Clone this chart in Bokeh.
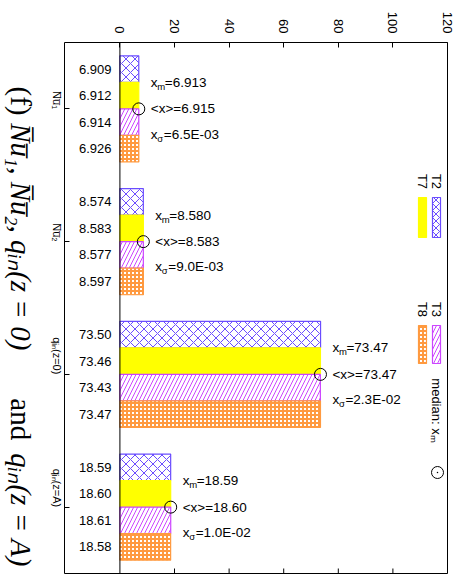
import math
from bokeh.plotting import figure
from bokeh.layouts import row
from bokeh.models import Range1d, FixedTicker, Span
from bokeh.core.properties import value
from bokeh.embed import file_html
from bokeh.resources import INLINE

# ---------------- data ----------------
groups = ["N\u0305u\u0305\u2081", "N\u0305u\u0305\u2082", "q\u1d62\u2099(z=0)", "q\u1d62\u2099(z=A)"]
series = ["T2", "T7", "T3", "T8"]
t2 = [6.909, 8.574, 73.50, 18.59]
t7 = [6.912, 8.583, 73.46, 18.60]
t3 = [6.914, 8.577, 73.43, 18.61]
t8 = [6.926, 8.597, 73.47, 18.58]
decimals = [3, 3, 2, 2]
medians = [6.913, 8.580, 73.47, 18.59]
means = [6.915, 8.583, 73.47, 18.60]
sigmas = ["6.5E-03", "9.0E-03", "2.3E-02", "1.0E-02"]
x_ticks = [0, 20, 40, 60, 80, 100, 120]
title_parts = ["(f)", "N\u0305u\u0305\u2081, N\u0305u\u0305\u2082, q\u1d62\u2099(z = 0)", "and", "q\u1d62\u2099(z = A)"]

# ---------------- style ----------------
SANS = "Liberation Sans"
SERIF = "Liberation Serif"
C_T2 = "#6a4cff"
C_T7 = "#ffff00"
C_T3 = "#cc44ff"
C_T8 = "#ff9a40"
X0, X1 = -20.3, 120
Y0, Y1 = -0.5, 3.5
TW = 40                               # width of title strip (px)
FL, FW, FT, FH = 64, 383, 42, 531     # frame position on page (px)


def dx(px):
    return X0 + (px - FL) * (X1 - X0) / FW


def dy(py):
    return Y0 + (py - FT) * (Y1 - Y0) / FH


# ---------------- title strip ----------------
tf = figure(width=TW, height=579, x_range=Range1d(0, TW), y_range=Range1d(579, 0),
            output_backend="svg", toolbar_location=None, x_axis_type=None, y_axis_type=None,
            min_border=0)
tf.outline_line_color = None
tf.grid.visible = False
t_styles = ["normal", "italic", "normal", "italic"]
t_starts = [48, 88, 388, 448]
for txt, st, y0 in zip(title_parts, t_styles, t_starts):
    tf.text(x=20, y=y0, text=[txt], angle=-math.pi / 2, text_align="left", text_baseline="middle",
            text_font=value(SERIF), text_font_style=st, text_font_size="29px", text_color="black")

# ---------------- main plot ----------------
p = figure(width=461 - TW, height=579, x_range=Range1d(X0, X1), y_range=Range1d(Y1, Y0),
           output_backend="svg", toolbar_location=None, x_axis_location="above",
           min_border_left=FL - TW, min_border_right=461 - FL - FW, min_border_top=FT,
           min_border_bottom=579 - FT - FH)
p.grid.visible = False
p.outline_line_color = "black"
p.outline_line_width = 1

xa = p.xaxis[0]
xa.ticker = FixedTicker(ticks=x_ticks)
xa.major_label_orientation = -math.pi / 2
xa.major_tick_in = 5
xa.major_tick_out = 0
xa.minor_tick_in = 0
xa.minor_tick_out = 0
xa.axis_line_color = None
xa.major_label_standoff = 9
xa.major_label_text_font = SANS
xa.major_label_text_font_size = "13px"
xa.major_label_text_color = "black"

ya = p.yaxis[0]
ya.ticker = FixedTicker(ticks=[0, 1, 2, 3])
ya.major_label_overrides = {i: g for i, g in enumerate(groups)}
ya.major_label_orientation = -math.pi / 2
ya.major_tick_in = 5
ya.major_tick_out = 0
ya.minor_tick_in = 0
ya.minor_tick_out = 0
ya.axis_line_color = None
ya.major_label_standoff = 8
ya.major_label_text_font = SANS
ya.major_label_text_font_size = "11px"
ya.major_label_text_color = "black"

# bottom mirror ticks
tick_len = 5 * (Y1 - Y0) / FH
p.segment(x0=x_ticks[1:], x1=x_ticks[1:], y0=Y1, y1=Y1 - tick_len, line_color="black", line_width=1)

p.add_layout(Span(location=0, dimension="height", line_color="black", line_width=1))

offsets = [-0.3, -0.1, 0.1, 0.3]
styles = [
    dict(fill_color="white", hatch_pattern="x", hatch_color=C_T2, hatch_scale=9, hatch_weight=1, line_color=C_T2),
    dict(fill_color=C_T7, line_color=C_T7),
    dict(fill_color="white", hatch_pattern="/", hatch_color=C_T3, hatch_scale=8, hatch_weight=1, line_color=C_T3),
    dict(fill_color="white", hatch_pattern="+", hatch_color=C_T8, hatch_scale=4, hatch_weight=2, line_color=C_T8),
]
for vals, off, st in zip([t2, t7, t3, t8], offsets, styles):
    ys = [i + off for i in range(len(vals))]
    p.hbar(y=ys, left=0, right=vals, height=0.2, line_width=1.2, **st)
    labels = [f"{v:.{d}f}" for v, d in zip(vals, decimals)]
    p.text(x=dx(111), y=ys, text=labels, text_align="right", text_baseline="middle",
           text_font=value(SANS), text_font_size="13px", text_color="black")

gy = list(range(len(groups)))
p.scatter(x=means, y=gy, marker="circle", size=12, fill_color=None, line_color="black", line_width=1)

FS = "13.5px"
SUB = "9.5px"
ym = [g - 0.2 for g in gy]
p.text(x=means, y=ym, text=["x"] * 4, x_offset=12, text_baseline="middle",
       text_font=value(SANS), text_font_size=FS)
p.text(x=means, y=ym, text=["m"] * 4, x_offset=18.5, y_offset=4, text_baseline="middle",
       text_font=value(SANS), text_font_size=SUB)
p.text(x=means, y=ym, text=[f"={v:.{d}f}" for v, d in zip(medians, decimals)], x_offset=26,
       text_baseline="middle", text_font=value(SANS), text_font_size=FS)
p.text(x=means, y=gy, text=[f"<x>={v:.{d}f}" for v, d in zip(means, decimals)], x_offset=12,
       text_baseline="middle", text_font=value(SANS), text_font_size=FS)
ysg = [g + 0.19 for g in gy]
p.text(x=means, y=ysg, text=["x"] * 4, x_offset=12, text_baseline="middle",
       text_font=value(SANS), text_font_size=FS)
p.text(x=means, y=ysg, text=["\u03c3"] * 4, x_offset=18.5, y_offset=4, text_baseline="middle",
       text_font=value(SANS), text_font_size=SUB)
p.text(x=means, y=ysg, text=[f"={s}" for s in sigmas], x_offset=25,
       text_baseline="middle", text_font=value(SANS), text_font_size=FS)

# ---------------- legend (rotated) ----------------
keys = [(432, 440, 197, 237), (418, 426, 197, 237), (432, 440, 325, 363), (418, 426, 325, 363)]
for (l, r, t, b), st in zip(keys, styles):
    st2 = dict(st)
    if st2.get("hatch_pattern") == "x":
        st2["hatch_scale"] = 7
    p.quad(left=dx(l), right=dx(r), top=dy(t), bottom=dy(b), line_width=1.2, **st2)
leg_pos = [(436, 181), (422, 181), (436, 309), (422, 309)]
for (lx, ly), name in zip(leg_pos, series):
    p.text(x=dx(lx), y=dy(ly), text=[name], angle=-math.pi / 2, text_align="center",
           text_baseline="middle", text_font=value(SANS), text_font_size="13px")
p.text(x=dx(436), y=dy(410), text=["median: x\u2098"], angle=-math.pi / 2, text_align="center",
       text_baseline="middle", text_font=value(SANS), text_font_size="13px")
p.scatter(x=dx(437), y=dy(472), marker="circle", size=12, fill_color=None, line_color="black")
p.scatter(x=dx(437), y=dy(472), marker="dot", size=6, fill_color="black", line_color="black")

layout = row(tf, p)
open("out.html", "w").write(file_html(layout, INLINE))
